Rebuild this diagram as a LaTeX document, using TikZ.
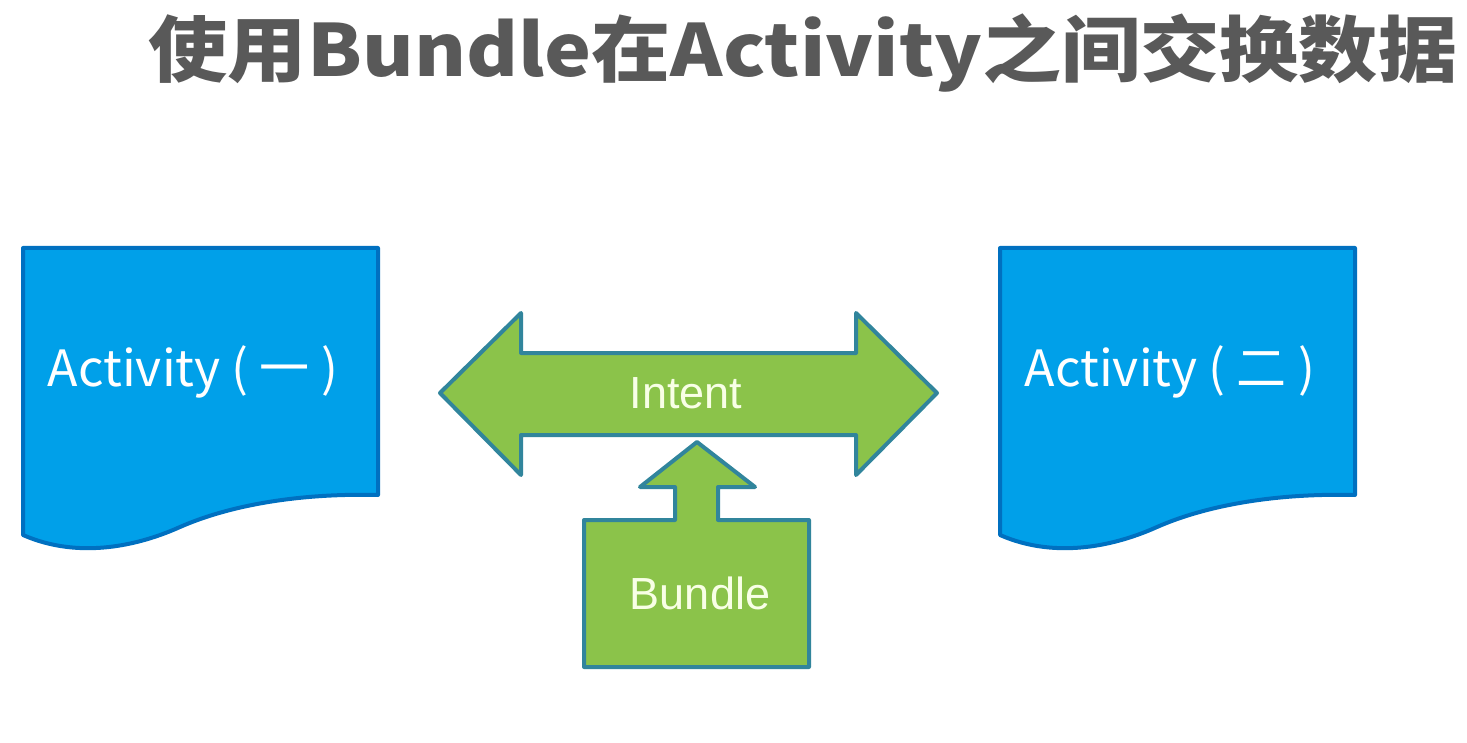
\documentclass[tikz,border=0pt]{standalone}
\usepackage{fontspec}
\newfontfamily\cjk{Noto Sans CJK SC}
\newfontfamily\arialf{Liberation Sans}
\definecolor{docfill}{RGB}{0,160,233}
\definecolor{docline}{RGB}{0,112,192}
\definecolor{grfill}{RGB}{139,195,74}
\definecolor{grline}{RGB}{49,133,156}
\definecolor{titlec}{RGB}{89,89,89}
\definecolor{lighttext}{RGB}{248,255,230}
\tikzset{
  docshape/.style={fill=docfill,draw=docline,line width=4pt,line join=round},
  grshape/.style={fill=grfill,draw=grline,line width=4pt,line join=round},
  doclabel/.style={text=white,font=\cjk\fontsize{50}{58}\selectfont,inner sep=0pt},
  grlabel/.style={text=lighttext,font=\arialf\fontsize{45}{52}\selectfont,inner sep=0pt},
}
\begin{document}
\begin{tikzpicture}[x=1pt,y=-1pt]
\useasboundingbox[fill=white] (0,0) rectangle (1467,743);
% title
\node[text=titlec,font=\cjk\bfseries\fontsize{72}{80}\selectfont,inner sep=0pt] (title) at (803,53) {\scalebox{1.1}[1]{使用Bundle在Activity之间交换数据}};
% left document
\draw[docshape] (23,248) -- (378,248) -- (378,495)
  .. controls (300,493) and (230,505) .. (180,527)
  .. controls (140,545) and (80,560) .. (23,535) -- cycle;
\node[doclabel] (act1) at (193,372) {Activity ( 一 )};
% right document
\draw[docshape] (1000,248) -- (1355,248) -- (1355,495)
  .. controls (1277,493) and (1207,505) .. (1157,527)
  .. controls (1117,545) and (1057,560) .. (1000,535) -- cycle;
\node[doclabel] (act2) at (1170,372) {Activity ( 二 )};
% double arrow
\draw[grshape] (440,393) -- (521,313) -- (521,353) -- (856,353) -- (856,313) -- (937,393)
  -- (856,475) -- (856,435) -- (521,435) -- (521,475) -- cycle;
\node[grlabel] (intent) at (686,393) {Intent};
% bundle box with up arrow
\draw[grshape] (584,520) -- (675,520) -- (675,487) -- (640,487) -- (697,442) -- (755,487)
  -- (718,487) -- (718,520) -- (809,520) -- (809,667) -- (584,667) -- cycle;
\node[grlabel] (bundle) at (700,593) {Bundle};
\end{tikzpicture}
\end{document}
